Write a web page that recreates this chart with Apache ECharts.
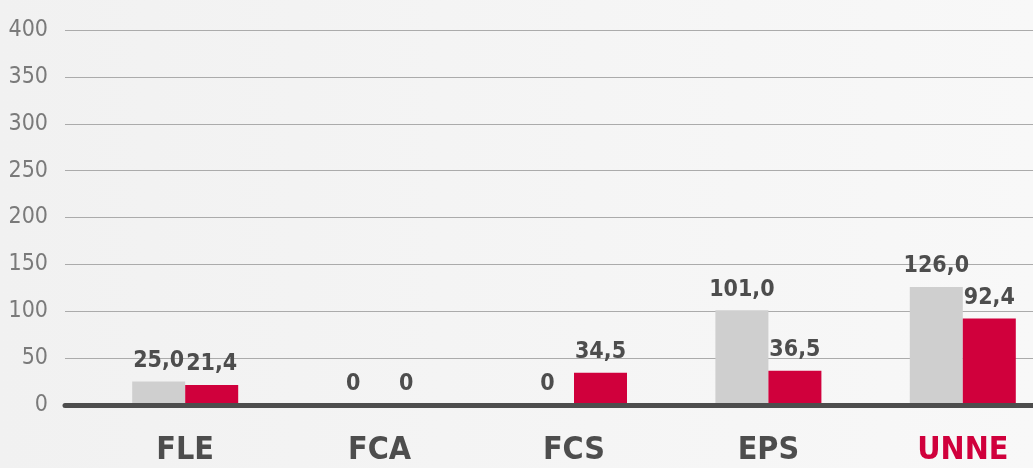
<!DOCTYPE html>
<html>
<head>
<meta charset="utf-8">
<script src="https://cdn.jsdelivr.net/npm/echarts@6/dist/echarts.min.js"></script>
<style>
  html, body { margin: 0; padding: 0; background: #f2f2f2; }
  #chart { width: 1033px; height: 468px; }
</style>
</head>
<body>
<div id="chart"></div>
<script>
// categories and values
var categories = ['FLE', 'FCA', 'FCS', 'EPS', 'UNNE'];
var serieGris = [25.0, 0, 0, 101.0, 126.0];
var serieRojo = [21.4, 0, 34.5, 36.5, 92.4];
var yTicks = [0, 50, 100, 150, 200, 250, 300, 350, 400];

var fuente = "'Liberation Sans Narrow', 'DejaVu Sans Condensed', 'Roboto', sans-serif";
var rojo = '#d0003c';
var gris = '#cfcfcf';

function fmt(p) {
  if (p.value === 0) return '0';
  return p.value.toFixed(1).replace('.', ',');
}

var etiqueta = {
  show: true,
  position: 'top',
  distance: 9,
  formatter: fmt,
  color: '#4d4d4d',
  fontFamily: fuente,
  fontWeight: 'bold',
  fontSize: 23
};

var myChart = echarts.init(document.getElementById('chart'));
var option = {
  backgroundColor: {
    type: 'linear', x: 0, y: 0, x2: 1, y2: 0,
    colorStops: [{offset: 0, color: '#f1f1f1'}, {offset: 1, color: '#f8f8f8'}]
  },
  animation: false,
  grid: [
    {left: 65, right: 0, top: 30, bottom: 63, outerBoundsMode: 'none'},
    // la grilla de barras sigue más allá del borde derecho
    {left: 88, right: -27, top: 30, bottom: 63, outerBoundsMode: 'none'}
  ],
  xAxis: [
    {
      gridIndex: 0,
      type: 'category',
      data: categories,
      z: 10,
      axisLine: {show: true, lineStyle: {color: '#4d4d4d', width: 5}},
      axisTick: {show: false},
      axisLabel: {show: false}
    },
    {
      gridIndex: 1,
      type: 'category',
      data: categories,
      axisLine: {show: false},
      axisTick: {show: false},
      axisLabel: {
        margin: 30,
        fontFamily: fuente,
        fontWeight: 'bold',
        fontSize: 32,
        lineHeight: 32,
        color: function (val) { return val === 'UNNE' ? rojo : '#4d4d4d'; }
      }
    }
  ],
  yAxis: [
    {
      gridIndex: 0,
      type: 'value',
      min: yTicks[0],
      max: yTicks[yTicks.length - 1],
      interval: 50,
      axisLine: {show: false},
      axisTick: {show: false},
      axisLabel: {margin: 17, fontFamily: fuente, fontSize: 23, color: '#7a7a7a'},
      splitLine: {lineStyle: {color: '#ababab', width: 1}}
    },
    {
      gridIndex: 1,
      type: 'value',
      min: yTicks[0],
      max: yTicks[yTicks.length - 1],
      interval: 50,
      show: false,
      splitLine: {show: false}
    }
  ],
  series: [
    {
      name: 'gris',
      type: 'bar',
      xAxisIndex: 1,
      yAxisIndex: 1,
      data: serieGris,
      barWidth: 53,
      barGap: '0%',
      itemStyle: {color: gris},
      label: etiqueta
    },
    {
      name: 'rojo',
      type: 'bar',
      xAxisIndex: 1,
      yAxisIndex: 1,
      data: serieRojo,
      barWidth: 53,
      barGap: '0%',
      itemStyle: {color: rojo},
      label: etiqueta
    }
  ]
};
myChart.setOption(option);
</script>
</body>
</html>
